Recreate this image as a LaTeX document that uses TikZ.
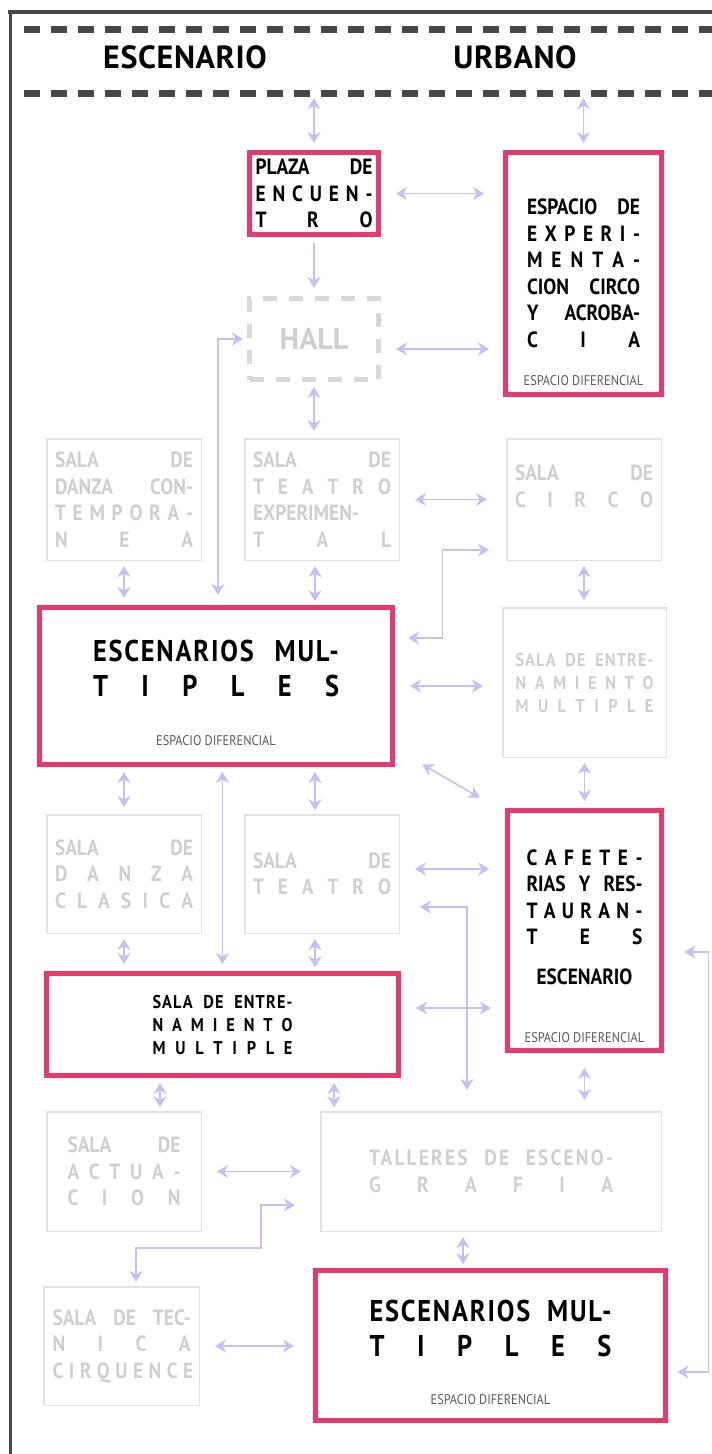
\documentclass[tikz,border=0pt]{standalone}
\usepackage{fontspec}
\setmainfont{PT Sans}
\newfontfamily\cond[FakeStretch=0.88]{PT Sans}
\usetikzlibrary{arrows.meta,positioning}
\definecolor{rosa}{HTML}{E8396A}
\definecolor{lgray}{HTML}{E2E2E2}
\definecolor{gtext}{HTML}{CFCFCF}
\definecolor{hallgray}{HTML}{DDD8D8}
\definecolor{lilac}{HTML}{C5BEF8}
\definecolor{framec}{HTML}{474747}
\definecolor{difftxt}{HTML}{5A5A5A}
\newcommand{\spr}[1]{\makebox[\linewidth][s]{\spaceskip=0.25em plus 1fil\relax #1}}

\begin{document}
\begin{tikzpicture}[x=1pt,y=-1pt,
  >={Stealth[length=11pt,width=13pt,inset=3.5pt]},
  font=\cond\bfseries\fontsize{22}{26.5}\selectfont,
  hot/.style={draw=rosa,line width=5pt,align=center,inner sep=0pt},
  dim/.style={draw=lgray,line width=1.5pt,text=gtext,align=center,inner sep=0pt},
  small/.style={font=\cond\bfseries\fontsize{18.5}{23}\selectfont\addfontfeature{LetterSpace=6}},
  big/.style={font=\cond\bfseries\fontsize{30}{35}\selectfont\addfontfeature{LetterSpace=6}},
  wide/.style={font=\cond\bfseries\fontsize{22}{26.5}\selectfont\addfontfeature{LetterSpace=10}},
  diff/.style={font=\cond\fontsize{14}{16}\selectfont,text=difftxt,inner sep=0pt},
  title/.style={font=\bfseries\fontsize{32}{34}\selectfont\addfontfeature{LetterSpace=2}},
  link/.style={draw=lilac,line width=1.6pt,<->},
  one/.style={draw=lilac,line width=1.6pt,->,shorten <=6pt,shorten >=8pt},
  vlink/.style={link,shorten <=5pt,shorten >=7pt},
  hlink/.style={link,shorten <=15pt,shorten >=19pt}
]
\useasboundingbox (0,0) rectangle (712,1454);
\draw[framec,line width=3.5pt] (8.25,12) -- (712,12);
\draw[framec,line width=3pt] (10,10.25) -- (10,1454);

\node[minimum width=688pt,minimum height=63pt,inner sep=0pt] (hdr) at (368,61.5) {};
\draw[framec,line width=7pt,dash pattern=on 16pt off 11pt] (hdr.north west) -- (hdr.north east);
\draw[framec,line width=7pt,dash pattern=on 16pt off 11pt] (hdr.south west) -- (hdr.south east);
\node[title] (esc) at (185,57) {ESCENARIO};
\node[title] (urb) at (515,57) {URBANO};

\node[hot,minimum width=129pt,minimum height=82pt,text width=117pt] (plaza) at (314,193.5) {\spr{PLAZA DE}\\\spr{E N C U E N -}\\\spr{T R O}};
\node[hot,minimum width=156pt,minimum height=242pt,text width=113pt] (espacio) at (583.5,273.5) {\spr{ESPACIO DE}\\\spr{E X P E R I -}\\\spr{M E N T A -}\\\spr{CION CIRCO}\\\spr{Y ACROBA-}\\\spr{C I A}};
\node[diff,above=11.5pt of espacio.south] (espaciod) {ESPACIO DIFERENCIAL};
\node[draw=hallgray,line width=5pt,dash pattern=on 14pt off 12pt,minimum width=129pt,minimum height=81pt,text=gtext,font=\bfseries\fontsize{30}{32}\selectfont] (hall) at (314,339) {HALL};

\node[dim,minimum width=154.5pt,minimum height=121.5pt,text width=138pt] (danzac) at (124,499.5) {\spr{SALA DE}\\\spr{DANZA CON-}\\\spr{T E M P O R A -}\\\spr{N E A}};
\node[dim,minimum width=154.5pt,minimum height=121.5pt,text width=138pt] (teatroexp) at (322,499.5) {\spr{SALA DE}\\\spr{T E A T R O}\\\spr{EXPERIMEN-}\\\spr{T A L}};
\node[dim,minimum width=154.5pt,minimum height=121.5pt,text width=138pt] (circo) at (584,499.5) {\spr{SALA DE}\\\spr{C I R C O}\\\mbox{}};

\node[hot,big,minimum width=353pt,minimum height=157pt,text width=246pt] (escm1) at (216,686) {\spr{ESCENARIOS MUL-}\\\spr{T I P L E S}\\\mbox{}};
\node[diff,above=21.5pt of escm1.south] (escm1d) {ESPACIO DIFERENCIAL};
\node[dim,small,minimum width=163.5pt,minimum height=149.5pt,text width=138pt] (entreng) at (584.5,682.5) {\spr{SALA DE ENTRE-}\\\spr{N A M I E N T O}\\\spr{M U L T I P L E}};

\node[dim,minimum width=154.5pt,minimum height=118.5pt,text width=138pt] (danzacl) at (124,874) {\spr{SALA DE}\\\spr{D A N Z A}\\\spr{C L A S I C A}};
\node[dim,minimum width=154.5pt,minimum height=118.5pt,text width=138pt] (teatro) at (322,874) {\spr{SALA DE}\\\spr{T E A T R O}};
\node[hot,minimum width=154pt,minimum height=240pt,text width=116pt] (cafe) at (584.5,930.5) {\spr{C A F E T E -}\\\spr{RIAS Y RES-}\\\spr{T A U R A N -}\\\spr{T E S}\\[13.5pt]ESCENARIO\\\mbox{}};
\node[diff,above=10.5pt of cafe.south] (cafed) {ESPACIO DIFERENCIAL};

\node[hot,small,minimum width=352pt,minimum height=102pt,text width=140pt] (entrenp) at (222.5,1024.5) {\spr{SALA DE ENTRE-}\\\spr{N A M I E N T O}\\\spr{M U L T I P L E}};

\node[dim,minimum width=154.5pt,minimum height=119.5pt,text width=113pt] (actuacion) at (124,1171.5) {\spr{SALA DE}\\\spr{A C T U A -}\\\spr{C I O N}};
\node[dim,wide,minimum width=340.5pt,minimum height=119.5pt,text width=244pt] (talleres) at (491,1171.5) {\spr{TALLERES DE ESCENO-}\\\spr{G R A F I A}};

\node[dim,minimum width=155.5pt,minimum height=118.5pt,text width=138pt] (tecnica) at (121.5,1346) {\spr{SALA DE TEC-}\\\spr{N I C A}\\\spr{C I R Q U E N C E}};
\node[hot,big,minimum width=350pt,minimum height=150pt,text width=242pt] (escm2) at (490.5,1345.5) {\spr{ESCENARIOS MUL-}\\\spr{T I P L E S}\\\mbox{}};
\node[diff,above=18.5pt of escm2.south] (escm2d) {ESPACIO DIFERENCIAL};

\draw[vlink] (plaza.north |- hdr.south) -- (plaza.north);
\draw[vlink] (espacio.north |- hdr.south) -- (espacio.north);
\draw[one] (plaza.south) -- (hall.north);
\draw[hlink] (plaza.east) -- (plaza.east -| espacio.west);
\draw[hlink] ([yshift=-10pt]hall.east) -- ++(127,0);
\draw[vlink] (hall.south) -- (hall.south |- teatroexp.north);
\draw[link,shorten <=10pt,shorten >=4pt] ([xshift=2pt]escm1.north) |- (hall.west);
\draw[vlink] (danzac.south) -- (danzac.south |- escm1.north);
\draw[vlink] ([xshift=-7pt]teatroexp.south) -- ++(0,47.25);
\draw[hlink] (teatroexp.east) -- (circo.west);
\draw[vlink] (circo.south) -- (circo.south |- entreng.north);
\draw[link,shorten <=13pt,shorten >=17pt] ([yshift=48pt]escm1.east) -- ++(47.5,0) |- ([yshift=-50.5pt]circo.west);
\draw[hlink] (escm1.east) -- (escm1.east -| entreng.west);
\draw[link] ([shift={(27.5,-2.5)}]escm1.south east) -- ([shift={(-25.5,-10.5)}]cafe.north west);
\draw[vlink] (entreng.south) -- (entreng.south |- cafe.north);
\draw[vlink] (danzacl.north |- escm1.south) -- (danzacl.north);
\draw[vlink] ([xshift=99pt]escm1.south) -- ++(0,50.25);
\draw[vlink] (entrenp.north |- escm1.south) -- (entrenp.north);
\draw[hlink] ([yshift=5pt]teatro.east) -- ++(108.25,0);
\draw[link,shorten <=20pt,shorten >=21pt] ([yshift=-33pt]teatro.east) -| ([xshift=-24pt]talleres.north);
\draw[vlink] (danzacl.south) -- (danzacl.south |- entrenp.north);
\draw[vlink] ([xshift=-7pt]teatro.south) -- ++(0,40.25);
\draw[hlink] ([yshift=16.5pt]entrenp.east) -- ++(109,0);
\draw[vlink,shorten <=15pt,shorten >=11pt] (cafe.south) -- (cafe.south |- talleres.north);
\draw[link,shorten <=9.5pt,shorten >=20.5pt] ([yshift=-26.5pt]escm2.east) -- ++(40.5,0) |- ([yshift=-21.5pt]cafe.east);
\draw[vlink] ([xshift=-62.5pt]entrenp.south) -- ++(0,36.25);
\draw[vlink] ([xshift=111.5pt]entrenp.south) -- ++(0,36.25);
\draw[hlink] (actuacion.east) -- (actuacion.east -| talleres.west);
\draw[link,shorten <=25pt,shorten >=4pt] ([yshift=-33.5pt]talleres.west) -- ++(-59,0) -- ++(0,43) -| ([xshift=14.5pt]tecnica.north);
\draw[vlink] ([xshift=-28pt]talleres.south) -- ++(0,39.25);
\draw[hlink] (tecnica.east) -- (tecnica.east -| escm2.west);
\end{tikzpicture}
\end{document}
